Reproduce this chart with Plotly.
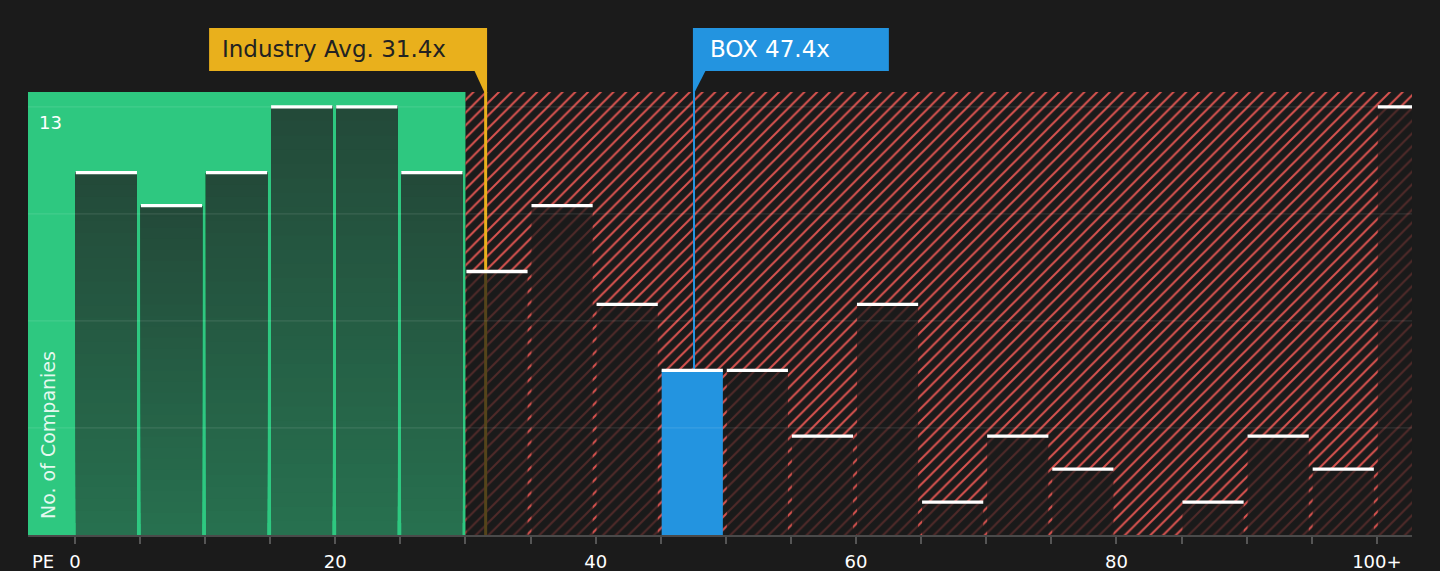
import plotly.graph_objects as go

# ---- data ----
bin_left = [0, 5, 10, 15, 20, 25, 30, 35, 40, 45, 50, 55, 60, 65, 70, 75, 80, 85, 90, 95, 100]
counts = [11, 10, 11, 13, 13, 11, 8, 10, 7, 5, 5, 3, 7, 1, 3, 2, 0, 1, 3, 2, 13]
tick_vals = list(range(0, 101, 5))
tick_label_map = {0: "0", 20: "20", 40: "40", 60: "60", 80: "80", 100: "100+"}
industry_avg = 31.4
company_name = "BOX"
company_pe = 47.4
fair_upper = 30
y_label_max = 13

# ---- styling ----
BG = "#1b1b1b"
GREEN = "#2ec880"
GREEN_BOTTOM = (39, 112, 79)
GREEN_TOP = (35, 74, 57)
RED = "#d9534f"
ORANGE = "#e9b01c"
BLUE = "#2394e0"
FONT = "DejaVu Sans"

x_range = [-3.6, 102.7]
y_range = [0, 13.45]
bin_w = 5
bar_w = 4.7
bar_off = 2.42
line_dx = 0.15
N_GRAD = 30

fig = go.Figure()

# hatched (red) region as a patterned bar spanning fair_upper..x-range end
fig.add_trace(go.Bar(
    x=[(fair_upper + x_range[1]) / 2], y=[y_range[1]], width=[x_range[1] - fair_upper],
    marker=dict(color=RED, line_width=0,
                pattern=dict(shape="/", fgcolor=RED, size=9, solidity=0.22, fillmode="replace")),
    hoverinfo="skip", showlegend=False,
))
# reference lines as thin bars so histogram bars sit above them
fig.add_trace(go.Bar(x=[industry_avg + line_dx], y=[y_range[1]], width=[0.23],
                     marker=dict(color=ORANGE, line_width=0), hoverinfo="skip", showlegend=False))
fig.add_trace(go.Bar(x=[company_pe + line_dx], y=[y_range[1]], width=[0.12],
                     marker=dict(color=BLUE, line_width=0), hoverinfo="skip", showlegend=False))

# green-zone bars with vertical gradient (overlapping slices, bottom -> top)
g_x = [b + bar_off for b in bin_left if b < fair_upper]
g_c = [c for b, c in zip(bin_left, counts) if b < fair_upper]
for k in range(N_GRAD):
    t = k / (N_GRAD - 1)
    col = tuple(round(GREEN_BOTTOM[i] + (GREEN_TOP[i] - GREEN_BOTTOM[i]) * t) for i in range(3))
    fig.add_trace(go.Bar(
        x=g_x, y=[c * (1 - k / N_GRAD) for c in g_c], base=[c * k / N_GRAD for c in g_c],
        width=bar_w, marker=dict(color="rgb(%d,%d,%d)" % col, line_width=0),
        showlegend=False, hoverinfo="skip",
    ))

# other bars
o_x, o_c, o_col = [], [], []
for b, c in zip(bin_left, counts):
    if b < fair_upper:
        continue
    o_x.append(b + bar_off)
    o_c.append(c)
    o_col.append(BLUE if b <= company_pe < b + bin_w else "rgba(27,27,27,0.72)")
fig.add_trace(go.Bar(
    x=o_x, y=o_c, width=bar_w,
    marker=dict(color=o_col, line_width=0), showlegend=False, hoverinfo="skip",
))
# white caps
cap_x = [b + bar_off for b, c in zip(bin_left, counts) if c > 0]
cap_base = [c - 0.05 for c in counts if c > 0]
fig.add_trace(go.Bar(
    x=cap_x, y=[0.1] * len(cap_x), base=cap_base, width=bar_w,
    marker=dict(color="#ffffff", line_width=0), showlegend=False, hoverinfo="skip",
))

grid_vals = [y_label_max * k / 4 for k in range(1, 5)]
for gv in grid_vals:
    fig.add_shape(type="line", xref="paper", x0=0, x1=1, yref="y", y0=gv, y1=gv,
                  line=dict(color="rgba(255,255,255,0.10)", width=1.2), layer="above")

# green region
fig.add_shape(type="rect", xref="x", x0=x_range[0], x1=fair_upper, yref="paper", y0=0, y1=1,
              fillcolor=GREEN, line_width=0, layer="below")

plot_h = 571 - 92 - 36
yb = 1 + 21 / plot_h      # callout bottom
yt = 1 + 64 / plot_h      # callout top
ym = (yb + yt) / 2

ind_box_w = 21.35
box_box_w = 15.05
ia = industry_avg + line_dx
cp = company_pe + line_dx

# callout boxes
fig.add_shape(type="rect", xref="x", yref="paper",
              x0=ia + 0.11 - ind_box_w, x1=ia + 0.11, y0=yb, y1=yt,
              fillcolor=ORANGE, line_width=0, layer="above")
fig.add_shape(type="rect", xref="x", yref="paper",
              x0=cp - 0.08, x1=cp - 0.08 + box_box_w, y0=yb, y1=yt,
              fillcolor=BLUE, line_width=0, layer="above")
# callout tails
fig.add_shape(type="path", xref="x", yref="paper",
              path=f"M {ia - 0.85},{yb} L {ia + 0.11},{yb} L {ia + 0.11},1 L {ia - 0.11},1 Z",
              fillcolor=ORANGE, line_width=0, layer="above")
fig.add_shape(type="path", xref="x", yref="paper",
              path=f"M {cp - 0.08},{yb} L {cp + 0.88},{yb} L {cp + 0.06},1 L {cp - 0.08},1 Z",
              fillcolor=BLUE, line_width=0, layer="above")

annotations = [
    dict(x=ia + 0.11 - ind_box_w, xref="x", xanchor="left", xshift=11, y=ym, yref="paper",
         yanchor="middle", text=f"Industry Avg. {industry_avg}x", showarrow=False,
         font=dict(family=FONT, size=23, color="#222222")),
    dict(x=cp - 0.08, xref="x", xanchor="left", xshift=15, y=ym, yref="paper",
         yanchor="middle", text=f"{company_name} {company_pe}x", showarrow=False,
         font=dict(family=FONT, size=23, color="#ffffff")),
    dict(x=0, xref="paper", xanchor="left", xshift=9, y=y_label_max, yref="y", yanchor="top", yshift=-3,
         text=str(y_label_max), showarrow=False, font=dict(family=FONT, size=18, color="#ffffff")),
    dict(x=0, xref="paper", xanchor="center", xshift=20, y=0, yref="paper", yanchor="bottom", yshift=14,
         text="No. of Companies", textangle=-90, showarrow=False,
         font=dict(family=FONT, size=19, color="rgba(255,255,255,0.88)")),
    dict(x=0, xref="paper", xanchor="left", xshift=2, y=0, yref="paper", yanchor="middle", yshift=-26,
         text="PE", showarrow=False, font=dict(family=FONT, size=18, color="#ffffff")),
]

fig.update_layout(
    width=1440, height=571,
    paper_bgcolor=BG, plot_bgcolor=BG,
    margin=dict(l=28, r=28, t=92, b=36, autoexpand=False),
    barmode="overlay", hovermode=False,
    font=dict(family=FONT, color="#ffffff"),
    annotations=annotations,
    xaxis=dict(range=x_range, tickvals=tick_vals,
               ticktext=[tick_label_map.get(v, "") for v in tick_vals],
               ticks="outside", ticklen=7, tickwidth=1.5, tickcolor="#555555",
               showline=True, linecolor="#4a4a4a", linewidth=2,
               showgrid=False, zeroline=False, fixedrange=True, automargin=False,
               tickfont=dict(family=FONT, size=18, color="#ffffff"), ticklabelstandoff=2),
    yaxis=dict(range=y_range, showgrid=False, zeroline=False, showticklabels=False,
               fixedrange=True, automargin=False),
)

fig.write_html("out.html", config={"displayModeBar": False},
               post_script="document.body.style.margin='0px';document.body.style.overflow='hidden';")
